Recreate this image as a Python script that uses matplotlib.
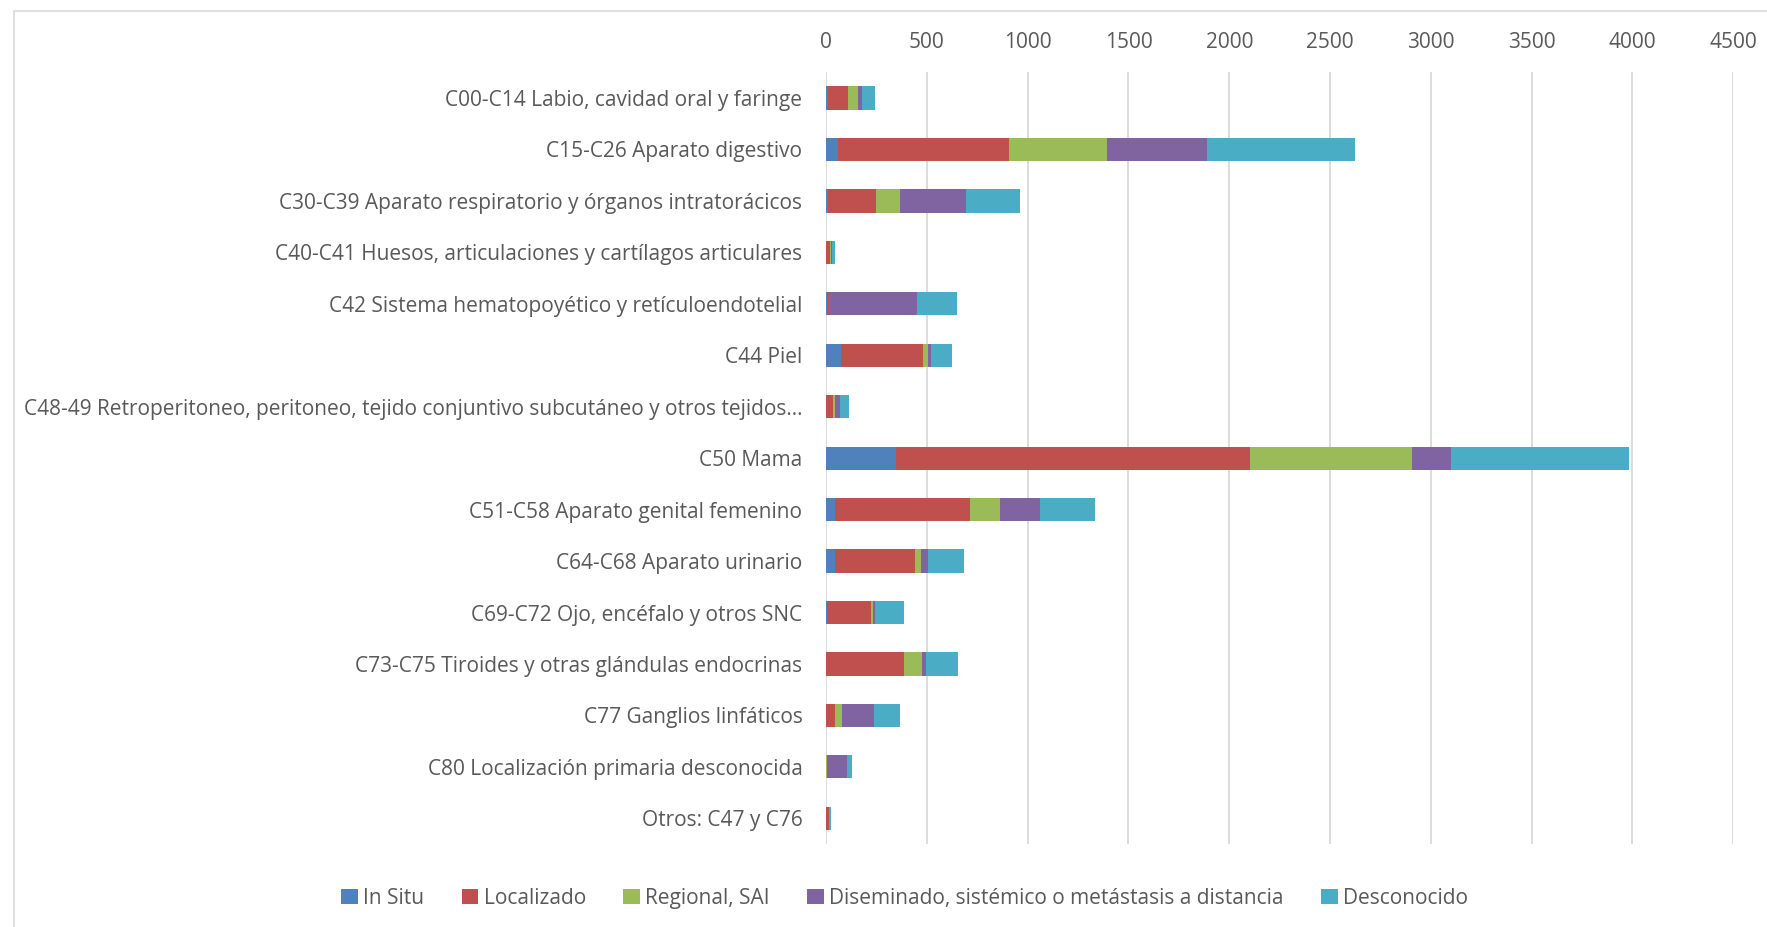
import numpy as np
import matplotlib
matplotlib.use("Agg")
import matplotlib.pyplot as plt
from matplotlib.patches import Rectangle

categories = [
    "C00-C14 Labio, cavidad oral y faringe",
    "C15-C26 Aparato digestivo",
    "C30-C39 Aparato respiratorio y órganos intratorácicos",
    "C40-C41 Huesos, articulaciones y cartílagos articulares",
    "C42 Sistema hematopoyético y retículoendotelial",
    "C44 Piel",
    "C48-49 Retroperitoneo, peritoneo, tejido conjuntivo subcutáneo y otros tejidos…",
    "C50 Mama",
    "C51-C58 Aparato genital femenino",
    "C64-C68 Aparato urinario",
    "C69-C72 Ojo, encéfalo y otros SNC",
    "C73-C75 Tiroides y otras glándulas endocrinas",
    "C77 Ganglios linfáticos",
    "C80 Localización primaria desconocida",
    "Otros: C47 y C76",
]

series_names = ["In Situ", "Localizado", "Regional, SAI",
                "Diseminado, sistémico o metástasis a distancia", "Desconocido"]

in_situ     = [8, 57, 8, 0, 4, 76, 2, 348, 46, 42, 4, 2, 0, 0, 0]
localizado  = [103, 851, 241, 21, 9, 405, 32, 1757, 669, 401, 217, 387, 42, 0, 15]
regional    = [47, 486, 116, 2, 0, 25, 10, 801, 150, 27, 13, 89, 39, 3, 0]
diseminado  = [19, 496, 327, 8, 439, 15, 23, 193, 196, 38, 10, 17, 157, 103, 0]
desconocido = [68, 733, 268, 13, 196, 103, 46, 886, 272, 175, 144, 161, 129, 23, 7]

colors = ["#4F81BD", "#C0504D", "#9BBB59", "#8064A2", "#4BACC6"]
text_color = "#595959"

plt.rcParams['font.family'] = ['Open Sans', 'DejaVu Sans']

fig = plt.figure(figsize=(17.67, 9.27), dpi=100)
ax = fig.add_axes([0.4675, 0.0895, 0.5134, 0.8325])

y = np.arange(len(categories))
left = np.zeros(len(categories))
for name, vals, col in zip(series_names, [in_situ, localizado, regional, diseminado, desconocido], colors):
    vals = np.array(vals, dtype=float)
    ax.barh(y, vals, left=left, height=0.45, color=col, label=name, zorder=3)
    left += vals

ax.set_xlim(0, 4500)
ax.set_ylim(len(categories) - 0.5, -0.5)
ax.set_xticks(np.arange(0, 4501, 500))
ax.xaxis.tick_top()
ax.set_yticks(y)
ax.set_yticklabels(categories)
ax.tick_params(axis='x', length=0, pad=14, labelsize=15, colors=text_color)
ax.tick_params(axis='y', length=0, pad=17, labelsize=15, colors=text_color)
ax.grid(axis='x', color="#D9D9D9", linewidth=1.3, zorder=0)
for s in ax.spines.values():
    s.set_visible(False)

fig.legend(loc='center', bbox_to_anchor=(0.512, 0.031), ncol=5, frameon=False,
           fontsize=15, handlelength=0.8, handleheight=0.8, handletextpad=0.25,
           columnspacing=1.8, labelcolor=text_color)

fig.patches.append(Rectangle((14 / 1767, -0.1), 1.2, 1 - 11 / 927 + 0.1,
                             transform=fig.transFigure, fill=False,
                             edgecolor="#D9D9D9", linewidth=1.2))

fig.savefig("out.png", dpi=100)
